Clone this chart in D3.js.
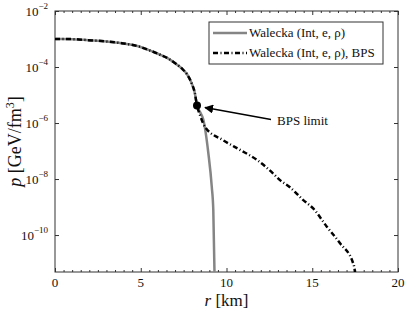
<!DOCTYPE html>
<html>
<head>
<meta charset="utf-8">
<script src="https://cdn.jsdelivr.net/npm/d3@7"></script>
<style>
  body { margin: 0; background: #fff; }
  text { font-family: "Liberation Serif", "DejaVu Serif", serif; fill: #111; }
</style>
</head>
<body>
<div class="chart"></div>
<script>
// shared core profile, both EoS agree up to the BPS limit
var rCore = [0, 1, 1.94, 3, 3.89, 4.8, 5.44, 6.1, 6.61, 7.05, 7.39, 7.7, 7.97, 8.15, 8.28];
var pCore = [1.0e-3, 9.9e-4, 9.1e-4, 8.2e-4, 7.1e-4, 5.6e-4, 4.1e-4, 2.8e-4, 2.0e-4, 1.3e-4, 8.9e-5, 5.5e-5, 2.6e-5, 1.2e-5, 4.2e-6];

// Walecka tail (no crust)
var rWalecka = [8.45, 8.65, 8.94, 9.14, 9.23, 9.3, 9.35];
var pWalecka = [2.5e-6, 1.3e-6, 8.5e-8, 5.4e-9, 7.8e-10, 4.8e-12, 1e-14];

// Walecka + BPS crust tail
var rBPS = [8.45, 8.75, 9.8, 10.79, 11.78, 12.71, 13.12, 13.7, 14.46, 15.04, 15.86, 16.62, 17.38, 17.49, 17.6];
var pBPS = [1.95e-6, 7.2e-7, 2.45e-7, 1.1e-7, 4.8e-8, 1.6e-8, 9.1e-9, 5.1e-9, 1.8e-9, 9.1e-10, 1.95e-10, 5.1e-11, 1.0e-11, 4.8e-12, 1e-14];

var bpsLimit = { r: 8.28, p: 4.2e-6 };

var xTicks = [0, 5, 10, 15, 20];
var yTickExp = [-2, -4, -6, -8, -10];

var legendLabels = ['Walecka (Int, e, \u03c1)', 'Walecka (Int, e, \u03c1), BPS'];

var margin = { top: 11, right: 9, bottom: 46, left: 55 };
var width = 407 - margin.left - margin.right;
var height = 318 - margin.top - margin.bottom;

var svg = d3.select('.chart')
    .append('svg')
    .attr('width', 407)
    .attr('height', 318);

var g = svg.append('g')
    .attr('transform', `translate(${margin.left}, ${margin.top})`);

var xScale = d3.scaleLinear().domain([0, 20]).range([0, width]);
var yScale = d3.scaleLog().domain([Math.pow(10, -11.32), 1e-2]).range([height, 0]);

g.append('clipPath').attr('id', 'clip')
    .append('rect').attr('width', width).attr('height', height);

// ticks point inwards, mirrored on top and right
var minor = d3.range(0, 20.01, 0.5).filter(d => d % 5 !== 0);
g.append('g')
    .attr('transform', `translate(0, ${height})`)
    .call(d3.axisBottom(xScale).tickValues(minor).tickSize(-2).tickFormat(''));
g.append('g')
    .call(d3.axisTop(xScale).tickValues(minor).tickSize(-2).tickFormat(''));
g.append('g')
    .attr('transform', `translate(0, ${height})`)
    .call(d3.axisBottom(xScale).tickValues(xTicks).tickSize(-4).tickFormat(''));
g.append('g')
    .call(d3.axisTop(xScale).tickValues(xTicks).tickSize(-4).tickFormat(''));

var yVals = yTickExp.map(e => Math.pow(10, e));
g.append('g')
    .call(d3.axisLeft(yScale).tickValues(yVals).tickSize(-4).tickFormat(''));
g.append('g')
    .attr('transform', `translate(${width}, 0)`)
    .call(d3.axisRight(yScale).tickValues(yVals).tickSize(-4).tickFormat(''));

g.selectAll('.domain').remove();
g.selectAll('.tick line').attr('stroke', '#333').attr('stroke-width', 1);

g.append('rect')
    .attr('width', width).attr('height', height)
    .attr('fill', 'none').attr('stroke', '#333').attr('stroke-width', 1);

// tick labels
g.selectAll('.xlab')
    .data(xTicks)
    .enter()
    .append('text')
    .attr('x', d => xScale(d))
    .attr('y', height + 15)
    .attr('text-anchor', 'middle')
    .style('font-size', '13px')
    .text(d => d);

var ylab = g.selectAll('.ylab')
    .data(yTickExp)
    .enter()
    .append('text')
    .attr('x', -7)
    .attr('y', d => yScale(Math.pow(10, d)) + 5)
    .attr('text-anchor', 'end')
    .style('font-size', '13px');
ylab.append('tspan').text('10');
ylab.append('tspan')
    .attr('dy', -7)
    .style('font-size', '9px')
    .text(d => '\u2212' + Math.abs(d));

// axis titles
svg.append('text')
    .attr('x', margin.left + width / 2)
    .attr('y', 306)
    .attr('text-anchor', 'middle')
    .style('font-size', '17px')
    .call(t => {
        t.append('tspan').style('font-style', 'italic').text('r');
        t.append('tspan').text(' [km]');
    });

svg.append('text')
    .attr('transform', `translate(21, ${margin.top + height / 2}) rotate(-90)`)
    .attr('text-anchor', 'middle')
    .style('font-size', '18px')
    .call(t => {
        t.append('tspan').style('font-style', 'italic').text('p');
        t.append('tspan').text(' [GeV/fm');
        t.append('tspan').attr('dy', -7).style('font-size', '12px').text('3');
        t.append('tspan').attr('dy', 7).text(']');
    });

// curves
var line = d3.line()
    .x(d => xScale(d.r))
    .y(d => yScale(d.p))
    .curve(d3.curveMonotoneX);

var core = rCore.map((r, i) => ({ r: r, p: pCore[i] }));
var walecka = core.concat(rWalecka.map((r, i) => ({ r: r, p: pWalecka[i] })));
var bps = core.concat(rBPS.map((r, i) => ({ r: r, p: pBPS[i] })));

var plot = g.append('g').attr('clip-path', 'url(#clip)');

plot.append('path')
    .attr('d', line(walecka))
    .style('stroke', '#858585')
    .style('stroke-width', 2.5)
    .style('fill', 'none');

plot.append('path')
    .attr('d', line(bps))
    .style('stroke', '#000')
    .style('stroke-width', 2.5)
    .style('stroke-dasharray', '5,2.5,1,2.5')
    .style('fill', 'none');

plot.append('circle')
    .attr('cx', xScale(bpsLimit.r))
    .attr('cy', yScale(bpsLimit.p))
    .attr('r', 4)
    .attr('fill', '#000');

// annotation arrow
svg.append('defs').append('marker')
    .attr('id', 'arrow')
    .attr('viewBox', '0 0 10 10')
    .attr('refX', 9).attr('refY', 5)
    .attr('markerWidth', 9).attr('markerHeight', 9)
    .attr('markerUnits', 'userSpaceOnUse')
    .attr('orient', 'auto')
    .append('path')
    .attr('d', 'M0,0 L10,5 L0,10 z')
    .attr('fill', '#000');

var ax = xScale(bpsLimit.r) + margin.left, ay = yScale(bpsLimit.p) + margin.top;
svg.append('line')
    .attr('x1', ax + 74).attr('y1', ay + 14)
    .attr('x2', ax + 8).attr('y2', ay + 2)
    .attr('stroke', '#000').attr('stroke-width', 1.5)
    .attr('marker-end', 'url(#arrow)');

svg.append('text')
    .attr('x', ax + 80)
    .attr('y', ay + 19)
    .style('font-size', '13px')
    .text('BPS limit');

// legend
var legend = svg.append('g').attr('transform', 'translate(209, 22)');
legend.append('rect')
    .attr('width', 174).attr('height', 42)
    .attr('fill', '#fff').attr('stroke', '#333').attr('stroke-width', 1);

var legendStyles = [
    { stroke: '#858585', dash: null },
    { stroke: '#000', dash: '5,2.5,1,2.5' }
];
legendLabels.forEach(function (label, i) {
    var y = 11 + i * 20;
    legend.append('line')
        .attr('x1', 4).attr('x2', 38)
        .attr('y1', y).attr('y2', y)
        .attr('stroke', legendStyles[i].stroke)
        .attr('stroke-width', 2.5)
        .attr('stroke-dasharray', legendStyles[i].dash);
    legend.append('text')
        .attr('x', 40)
        .attr('y', y + 4)
        .style('font-size', '13px')
        .text(label);
});
</script>
</body>
</html>
